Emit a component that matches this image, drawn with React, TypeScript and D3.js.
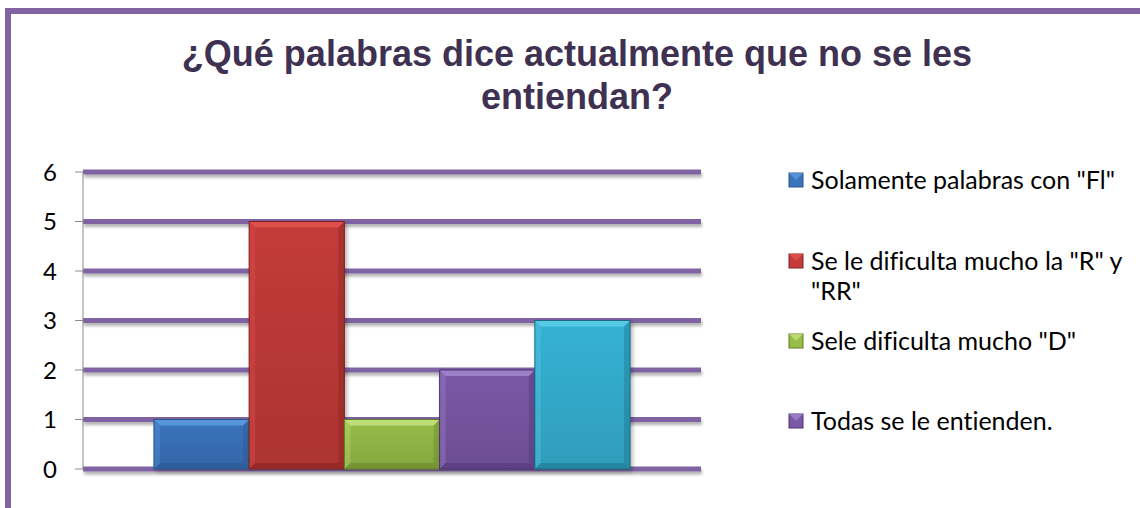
import React from 'react';
import * as d3 from 'd3';

const titleLines = ['¿Qué palabras dice actualmente que no se les', 'entiendan?'];
const seriesNames = ['Solamente palabras con "Fl"', 'Se le dificulta mucho la "R" y "RR"', 'Sele dificulta mucho "D"', 'Todas se le entienden.', 'Otra'];
const seriesValues = [1, 5, 1, 2, 3];
const legendLines = [['Solamente palabras con "Fl"'], ['Se le dificulta mucho la "R" y', '"RR"'], ['Sele dificulta mucho "D"'], ['Todas se le entienden.']];
const yTicks = [0, 1, 2, 3, 4, 5, 6];
const categories = ['Respuestas'];

const palette = [
  { light: '#5a9be0', base: '#3a74bd', dark: '#2a5488' },
  { light: '#e2524f', base: '#c33b38', dark: '#7f2220' },
  { light: '#c4e27c', base: '#97bd48', dark: '#5f7d26' },
  { light: '#a186cc', base: '#7a58a6', dark: '#4a3470' },
  { light: '#5ccbe9', base: '#35b2d4', dark: '#1b6a80' },
];

const legendY = [180, 261, 341, 421];

export default function App() {
  const W = 1140, H = 508;
  const plot = { left: 83, right: 701, top: 172, bottom: 469 };
  const y = d3.scaleLinear().domain([0, 6]).range([plot.bottom, plot.top]);
  const x0 = d3.scaleBand().domain(categories).range([plot.left, plot.right]).paddingInner(0).paddingOuter(0.149);
  const x1 = d3.scaleBand().domain(seriesNames).range([0, x0.bandwidth()]).padding(0);
  const font = 'Lato, "Open Sans", sans-serif';
  const bev = 6;

  return (
    <svg width={W} height={H} style={{ position: 'absolute', left: 0, top: 0, background: '#fff', fontVariantLigatures: 'none' }}>
      <defs>
        <filter id="sh" filterUnits="userSpaceOnUse" x="0" y="0" width={W} height={H}>
          <feDropShadow dx="1" dy="3" stdDeviation="1.5" floodColor="#000" floodOpacity="0.3" />
        </filter>
        <filter id="bsh" filterUnits="userSpaceOnUse" x="0" y="0" width={W} height={H}>
          <feDropShadow dx="2" dy="2" stdDeviation="2" floodColor="#000" floodOpacity="0.3" />
        </filter>
        {palette.map((c, i) => (
          <linearGradient key={i} id={`g${i}`} x1="0" y1="0" x2="0" y2="1">
            <stop offset="0" stopColor={c.base} />
            <stop offset="1" stopColor={d3.color(c.base)!.darker(0.35).toString()} />
          </linearGradient>
        ))}
      </defs>
      {/* frame */}
      <rect x={8} y={11} width={W + 20} height={H + 20} fill="none" stroke="#8064a2" strokeWidth={6} />
      {/* title */}
      {titleLines.map((t, i) => (
        <text key={i} x={577} y={66 + i * 43} textAnchor="middle" fontFamily='"Liberation Sans", Arial, sans-serif' fontWeight="bold" fontSize={36} fill="#3f3151">{t}</text>
      ))}
      {/* gridlines */}
      <g filter="url(#sh)">
        {yTicks.map(t => (
          <rect key={t} x={plot.left} width={plot.right - plot.left} y={y(t) - 2.5} height={5} fill="#8064a2" />
        ))}
      </g>
      {/* y axis */}
      <line x1={plot.left} x2={plot.left} y1={plot.top} y2={plot.bottom} stroke="#8c8c8c" strokeWidth={1} />
      {yTicks.map(t => (
        <g key={t}>
          <line x1={plot.left - 8} x2={plot.left} y1={y(t)} y2={y(t)} stroke="#8c8c8c" strokeWidth={1} />
          <text x={57} y={y(t) + 8.5} textAnchor="end" fontFamily={font} fontSize={24} fill="#000">{t}</text>
        </g>
      ))}
      {/* bars */}
      {categories.map(cat => (
        <g key={cat} transform={`translate(${x0(cat)},0)`}>
          {seriesNames.map((s, i) => {
            const c = palette[i];
            const bx = x1(s)!;
            const bw = x1.bandwidth();
            const by = y(seriesValues[i]);
            const bh = y(0) - by;
            return (
              <g key={s} filter="url(#bsh)">
                <rect x={bx} y={by} width={bw} height={bh} fill={`url(#g${i})`} />
                <polygon points={`${bx},${by} ${bx + bw},${by} ${bx + bw - bev},${by + bev} ${bx + bev},${by + bev}`} fill={c.light} opacity={0.9} />
                <polygon points={`${bx},${by} ${bx + bev},${by + bev} ${bx + bev},${by + bh - bev} ${bx},${by + bh}`} fill={c.light} opacity={0.35} />
                <polygon points={`${bx + bw},${by} ${bx + bw - bev},${by + bev} ${bx + bw - bev},${by + bh - bev} ${bx + bw},${by + bh}`} fill={c.dark} opacity={0.35} />
                <polygon points={`${bx},${by + bh} ${bx + bev},${by + bh - bev} ${bx + bw - bev},${by + bh - bev} ${bx + bw},${by + bh}`} fill={c.dark} opacity={0.45} />
                <rect x={bx} y={by} width={bw} height={bh} fill="none" stroke={c.dark} strokeWidth={1} />
              </g>
            );
          })}
        </g>
      ))}
      {/* legend */}
      {legendLines.map((lines, i) => {
        const c = palette[i];
        const cy = legendY[i];
        const s = 14;
        return (
          <g key={i}>
            <rect x={789} y={cy - s / 2} width={s} height={s} fill={c.base} stroke={c.dark} strokeWidth={1} />
            <polygon points={`${789},${cy - s / 2} ${789 + s},${cy - s / 2} ${789 + s / 2},${cy}`} fill={c.light} opacity={0.8} />
            {lines.map((l, j) => (
              <text key={j} x={811} y={cy + 9 + j * 30} fontFamily={font} fontSize={25} fill="#000">{l}</text>
            ))}
          </g>
        );
      })}
    </svg>
  );
}
